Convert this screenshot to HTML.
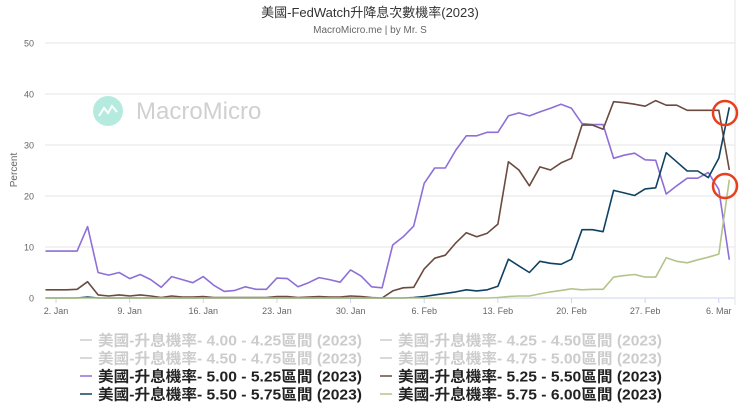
<!DOCTYPE html>
<html><head><meta charset="utf-8"><style>
body{margin:0;background:#fff;width:740px;height:414px;overflow:hidden;font-family:"Liberation Sans","Noto Sans CJK TC",sans-serif}
</style></head><body>
<svg id="chart" width="740" height="414" xmlns="http://www.w3.org/2000/svg" style="font-family:'Liberation Sans','Noto Sans CJK TC',sans-serif">
<text x="370" y="17" text-anchor="middle" font-size="13" fill="#333">美國-FedWatch升降息次數機率(2023)</text>
<text x="370" y="33" text-anchor="middle" font-size="10" fill="#666">MacroMicro.me | by Mr. S</text>
<g>
<circle cx="108" cy="111" r="15" fill="#b5ebdf"/>
<path d="M99 116 L104 108 L108 113 L112 106 L117 112" stroke="#fff" stroke-width="2" fill="none"/>
<text x="136" y="119" font-size="24" fill="#d0d0d0">MacroMicro</text>
</g>
<text transform="translate(17,170) rotate(-90)" text-anchor="middle" font-size="10" fill="#666">Percent</text>
<g id="grid"></g><g id="series"></g>
<line x1="735" y1="0" x2="735" y2="305" stroke="#e6e6e6"/>
<circle cx="725" cy="113" r="12" fill="none" stroke="#e8401c" stroke-width="2.5"/>
<circle cx="725" cy="186" r="12" fill="none" stroke="#e8401c" stroke-width="2.5"/>
<g id="legend"></g>
</svg>
<script>
const yTicks=[0,10,20,30,40,50];
const xTickDays=[1,8,15,22,29,36,43,50,57,64];
const xTickLabels=["2. Jan","9. Jan","16. Jan","23. Jan","30. Jan","6. Feb","13. Feb","20. Feb","27. Feb","6. Mar"];
const s500=[9.2,9.2,9.2,9.2,14,5,4.5,5,3.8,4.6,3.6,2.1,4.2,3.6,3,4.2,2.5,1.3,1.5,2.2,1.7,1.7,3.9,3.8,2.2,3,4,3.6,3.1,5.5,4.3,2.2,2,10.4,12,14.1,22.5,25.5,25.5,29,31.8,31.8,32.5,32.5,35.7,36.3,35.7,36.5,37.2,38,37.2,34.2,34,34,27.4,28,28.4,27.1,27,20.4,22,23.5,23.5,24.6,21.3,7.5];
const s525=[1.6,1.6,1.6,1.7,3.2,0.6,0.4,0.6,0.4,0.6,0.4,0.1,0.4,0.2,0.2,0.3,0.1,0.1,0.1,0.1,0.1,0.1,0.3,0.3,0.1,0.2,0.3,0.2,0.2,0.4,0.3,0.1,0,1.4,2,2.1,5.7,7.8,8.4,10.8,12.8,12,12.7,14.5,26.7,25.1,22,25.7,25.1,26.5,27.4,33.9,33.9,33.1,38.5,38.3,38,37.6,38.7,37.8,37.8,36.8,36.8,36.8,36.8,25.1];
const s550=[0,0,0,0,0.2,0,0,0,0,0,0,0,0,0,0,0,0,0,0,0,0,0,0,0,0,0,0,0,0,0,0,0,0,0,0,0.1,0.3,0.6,0.9,1.2,1.6,1.4,1.6,2.3,7.6,6.3,5,7.2,6.8,6.6,7.6,13.4,13.4,13,21.1,20.6,20.1,21.4,21.6,28.5,26.7,24.9,24.9,23.6,27.4,37.4];
const s575=[0,0,0,0,0,0,0,0,0,0,0,0,0,0,0,0,0,0,0,0,0,0,0,0,0,0,0,0,0,0,0,0,0,0,0,0,0,0,0,0,0,0,0,0.1,0.3,0.4,0.4,0.8,1.2,1.5,1.8,1.6,1.7,1.7,4.1,4.4,4.6,4.1,4.1,7.9,7.2,6.9,7.5,8,8.6,23.2];
const legendLabels=["美國-升息機率- 4.00 - 4.25區間 (2023)","美國-升息機率- 4.25 - 4.50區間 (2023)","美國-升息機率- 4.50 - 4.75區間 (2023)","美國-升息機率- 4.75 - 5.00區間 (2023)","美國-升息機率- 5.00 - 5.25區間 (2023)","美國-升息機率- 5.25 - 5.50區間 (2023)","美國-升息機率- 5.50 - 5.75區間 (2023)","美國-升息機率- 5.75 - 6.00區間 (2023)"];
const NS="http://www.w3.org/2000/svg";
const x=d=>45.5+10.52*d, y=v=>298-5.1*v;
const grid=document.getElementById('grid');
function mk(tag,at,parent){const e=document.createElementNS(NS,tag);for(const k in at)e.setAttribute(k,at[k]);parent.appendChild(e);return e;}
yTicks.forEach(t=>{
 const l=mk('line',{x1:45,x2:735,y1:y(t),y2:y(t),stroke:t===0?'#ccd6eb':'#e6e6e6'},grid);
 
 
 const tx=mk('text',{x:34,y:y(t)+3.5,'text-anchor':'end','font-size':9,fill:'#666'},grid);tx.textContent=t;
 
 
});
xTickDays.forEach((d,i)=>{
 const l=mk('line',{x1:x(d),x2:x(d),y1:298,y2:303,stroke:'#ccd6eb'},grid);
 
 
 const tx=mk('text',{x:x(d),y:314,'text-anchor':'middle','font-size':9,fill:'#666'},grid);tx.textContent=xTickLabels[i];
 
 
});
const ser=document.getElementById('series');
[[s500,'#8e6fd8','series-5-00-5-25'],[s525,'#6b4a3f','series-5-25-5-50'],[s550,'#0f4262','series-5-50-5-75'],[s575,'#b3c48a','series-5-75-6-00']].forEach(([a,c,n])=>{
 const p=mk('path',{d:a.map((v,i)=>(i?'L':'M')+x(i).toFixed(1)+' '+y(v).toFixed(1)).join(''),stroke:c,'stroke-width':1.6,fill:'none','stroke-linejoin':'round'},ser);
 
 
});
const leg=document.getElementById('legend');
const legColors=['#ccc','#ccc','#ccc','#ccc','#8e6fd8','#6b4a3f','#0f4262','#b3c48a'];
const rowsY=[340,358,376,394];
legendLabels.forEach((lab,i)=>{
 const col=i%2,row=Math.floor(i/2),lx=col?380:80,ly=rowsY[row],act=i>=4;
 const g=mk('g',{},leg);
 
 
 mk('line',{x1:lx,x2:lx+12,y1:ly,y2:ly,stroke:legColors[i],'stroke-width':1.5},g);
 const t=mk('text',{x:lx+18,y:ly+5.5,'font-size':15,'font-weight':'bold',fill:act?'#222':'#ccc',textLength:264,lengthAdjust:'spacingAndGlyphs'},g);t.textContent=lab;
});
</script>
</body></html>
